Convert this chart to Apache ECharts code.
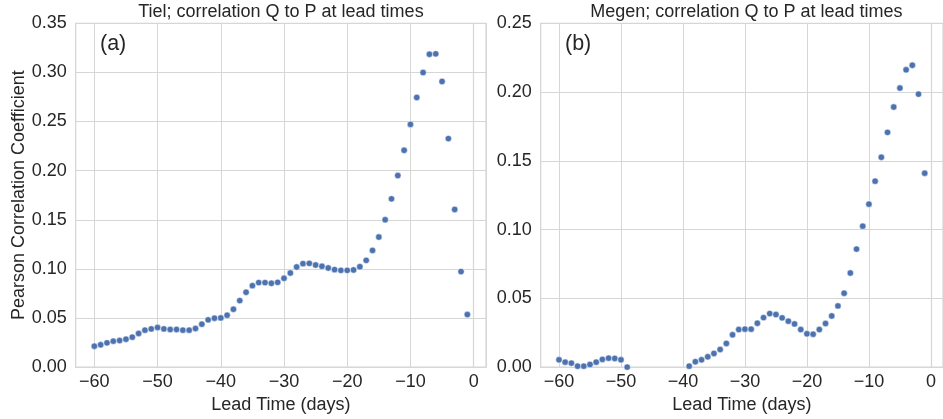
<!DOCTYPE html>
<html>
<head>
<meta charset="utf-8">
<script src="https://cdn.jsdelivr.net/npm/echarts@6/dist/echarts.min.js"></script>
<style>html,body{margin:0;padding:0;background:#fff;}#c{width:943px;height:419px;}</style>
</head>
<body>
<div id="c"></div>
<script>
// Lead times (days)
const leadTimes = [-60,-59,-58,-57,-56,-55,-54,-53,-52,-51,-50,-49,-48,-47,-46,-45,-44,-43,-42,-41,-40,-39,-38,-37,-36,-35,-34,-33,-32,-31,-30,-29,-28,-27,-26,-25,-24,-23,-22,-21,-20,-19,-18,-17,-16,-15,-14,-13,-12,-11,-10,-9,-8,-7,-6,-5,-4,-3,-2,-1];

// (a) Tiel
const tielCorr = [0.0213,0.0227,0.0247,0.0264,0.0271,0.0284,0.0305,0.0342,0.0376,0.0389,0.0403,0.0389,0.0383,0.0383,0.0376,0.0376,0.0393,0.0437,0.0481,0.0498,0.0501,0.0528,0.0589,0.0677,0.0762,0.0829,0.0860,0.0860,0.0853,0.0863,0.0904,0.0958,0.1019,0.1053,0.1056,0.1039,0.1026,0.1009,0.0992,0.0985,0.0985,0.0989,0.1022,0.1087,0.1188,0.1324,0.1500,0.1713,0.1950,0.2207,0.2471,0.2745,0.2999,0.3185,0.3189,0.2908,0.2326,0.1605,0.0972,0.0535];

// (b) Megen (values below 0 fall outside the visible axis)
const megenCorr = [0.0053,0.0036,0.0029,0.0007,0.0007,0.0019,0.0036,0.0056,0.0065,0.0063,0.0053,0.0,null,null,null,null,null,null,null,null,null,0.0007,0.0039,0.0053,0.0075,0.0099,0.0128,0.0172,0.0235,0.0273,0.0276,0.0276,0.0319,0.0360,0.0389,0.0382,0.0358,0.0334,0.0314,0.0273,0.0242,0.0239,0.0273,0.0317,0.0372,0.0445,0.0537,0.0684,0.0858,0.1025,0.1185,0.1352,0.1526,0.1707,0.1891,0.2029,0.2162,0.2195,0.1985,0.1410];

const titles = ['Tiel; correlation Q to P at lead times', 'Megen; correlation Q to P at lead times'];
const panelLabels = ['(a)', '(b)'];
const yMaxes = [0.35, 0.25];

const FONT = '"Liberation Sans", Arial, sans-serif';
const TXT = '#262626';
const GRIDC = '#d6d6d6';
const DOT = '#4c72b0';

const grids = [
  {left: 75.7, right: 457, top: 23.3, bottom: 51},
  {left: 540.7, right: -9, top: 23.3, bottom: 51}
];

function fmtX(v){ return v < 0 ? '\u2212' + Math.abs(v) : String(v); }

const chart = echarts.init(document.getElementById('c'), null, {renderer: 'canvas'});

const xAxes = [0,1].map(i => ({
  type: 'value', gridIndex: i, min: -62.95, max: 1.95,
  name: 'Lead Time (days)', nameLocation: 'middle', nameGap: 26,
  nameTextStyle: {fontFamily: FONT, fontSize: 18, color: TXT},
  axisLine: {show: true, lineStyle: {color: GRIDC, width: 1.2}},
  axisTick: {show: false},
  axisLabel: {fontFamily: FONT, fontSize: 18, color: TXT, margin: 6, showMinLabel: false, showMaxLabel: false, formatter: fmtX},
  splitLine: {show: true, lineStyle: {color: GRIDC, width: 1}}
}));

const yAxes = [0,1].map(i => ({
  type: 'value', gridIndex: i, min: 0, max: yMaxes[i], interval: 0.05,
  name: i === 0 ? 'Pearson Correlation Coefficient' : '',
  nameLocation: 'middle', nameGap: 48,
  nameTextStyle: {fontFamily: FONT, fontSize: 18, color: TXT},
  axisLine: {show: true, lineStyle: {color: GRIDC, width: 1.2}},
  axisTick: {show: false},
  axisLabel: {fontFamily: FONT, fontSize: 18, color: TXT, margin: 9, formatter: v => v.toFixed(2)},
  splitLine: {show: true, lineStyle: {color: GRIDC, width: 1}}
}));

const seriesData = [tielCorr, megenCorr];
const series = [0,1].map(i => ({
  type: 'scatter', xAxisIndex: i, yAxisIndex: i,
  data: leadTimes.map((t, k) => [t, seriesData[i][k]]).filter(p => p[1] !== null),
  symbolSize: 6.4,
  itemStyle: {color: DOT, borderColor: '#ffffff', borderWidth: 0.5, opacity: 1},
  emphasis: {disabled: true},
  animation: false
}));

const titleCenters = [280.9, 746.4];
const labelX = [100, 565];
const graphic = [];
for (let i = 0; i < 2; i++) {
  graphic.push({type: 'text', x: titleCenters[i], y: 3.5, style: {text: titles[i], fontFamily: FONT, fontSize: 18, fill: TXT, textAlign: 'center', textVerticalAlign: 'top'}});
  graphic.push({type: 'text', x: labelX[i], y: 33.5, style: {text: panelLabels[i], fontFamily: FONT, fontSize: 21.5, fill: TXT, textAlign: 'left', textVerticalAlign: 'top'}});
}

chart.setOption({
  animation: false,
  backgroundColor: '#ffffff',
  grid: grids.map(g => Object.assign({show: true, borderColor: GRIDC, borderWidth: 1.2, backgroundColor: '#ffffff', containLabel: false}, g)),
  xAxis: xAxes,
  yAxis: yAxes,
  series: series,
  graphic: graphic
});
</script>
</body>
</html>
